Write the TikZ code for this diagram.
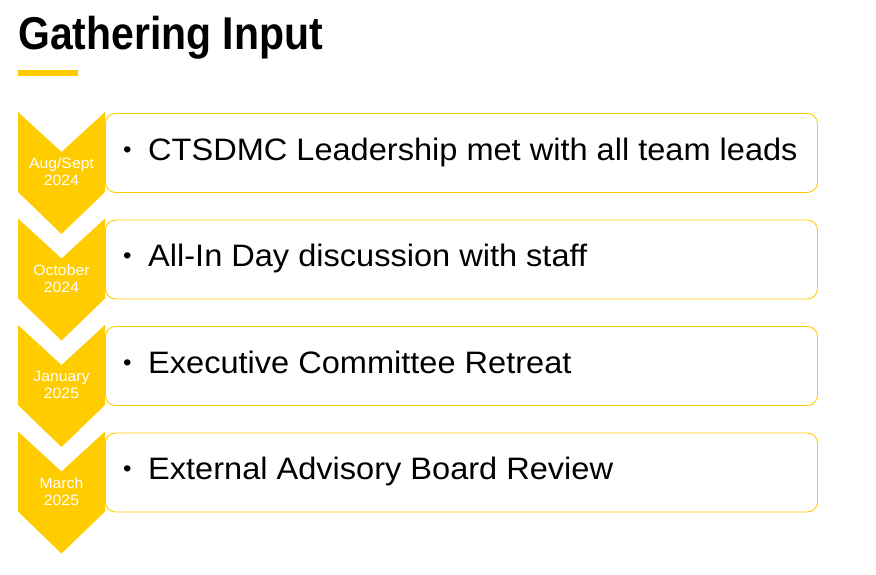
\documentclass[tikz,border=0pt]{standalone}
\usepackage{fontspec}
\setmainfont{Liberation Sans}
\newfontfamily\titlefont[FakeStretch=0.89]{Liberation Sans}
\newfontfamily\itemfont[FakeStretch=1.05]{Liberation Sans}
\usetikzlibrary{calc}
\definecolor{gold}{RGB}{255,204,0}
\tikzset{
box/.style={draw=gold,line width=0.9pt,rounded corners=10pt,anchor=north west,
  minimum width=712pt,minimum height=79pt,fill=white,inner sep=0pt},
item/.style={anchor=base west,inner sep=0pt,font=\itemfont\fontsize{31}{37}\selectfont},
date/.style={text=white,align=center,inner sep=0pt,font=\itemfont\fontsize{15}{17}\selectfont},
chev/.style={fill=gold},
}
\newcommand{\bul}{\makebox[25pt][l]{\raisebox{3pt}{\fontsize{23}{23}\selectfont\textbullet}}}

\begin{document}
\begin{tikzpicture}[x=1pt,y=-1pt]
\useasboundingbox (0,0) rectangle (876,574);
% title
\node[anchor=base west,inner sep=0pt,font=\titlefont\bfseries\fontsize{46}{50}\selectfont] (title) at (18,49) {Gathering Input};
\node[fill=gold,anchor=north west,inner sep=0pt,minimum width=60pt,minimum height=6pt] (bar) at (18,70) {};
% boxes
\node[box] (b1) at (105,113) {};
\node[box] (b2) at (105,219.5) {};
\node[box] (b3) at (105,326) {};
\node[box] (b4) at (105,432.5) {};
\node[item] (t1) at (123,160) {\bul CTSDMC Leadership met with all team leads};
\node[item] (t2) at (123,266.5) {\bul All-In Day discussion with staff};
\node[item] (t3) at (123,373) {\bul Executive Committee Retreat};
\node[item] (t4) at (123,479.5) {\bul External Advisory Board Review};
% chevrons
\coordinate (c1) at (18,112);
\coordinate (c2) at (18,218.5);
\coordinate (c3) at (18,325);
\coordinate (c4) at (18,431.5);
\fill[chev] (c1) -- ++(43.5,40) -- ++(43.5,-40) -- ++(0,80) -- ++(-43.5,42) -- ++(-43.5,-42) -- cycle;
\fill[chev] (c2) -- ++(43.5,40) -- ++(43.5,-40) -- ++(0,80) -- ++(-43.5,42) -- ++(-43.5,-42) -- cycle;
\fill[chev] (c3) -- ++(43.5,40) -- ++(43.5,-40) -- ++(0,80) -- ++(-43.5,42) -- ++(-43.5,-42) -- cycle;
\fill[chev] (c4) -- ++(43.5,40) -- ++(43.5,-40) -- ++(0,80) -- ++(-43.5,42) -- ++(-43.5,-42) -- cycle;
\node[date] (d1) at ($(c1)+(43.5,60)$) {Aug/Sept\\2024};
\node[date] (d2) at ($(c2)+(43.5,60)$) {October\\2024};
\node[date] (d3) at ($(c3)+(43.5,60)$) {January\\2025};
\node[date] (d4) at ($(c4)+(43.5,60)$) {March\\2025};
\end{tikzpicture}
\end{document}
